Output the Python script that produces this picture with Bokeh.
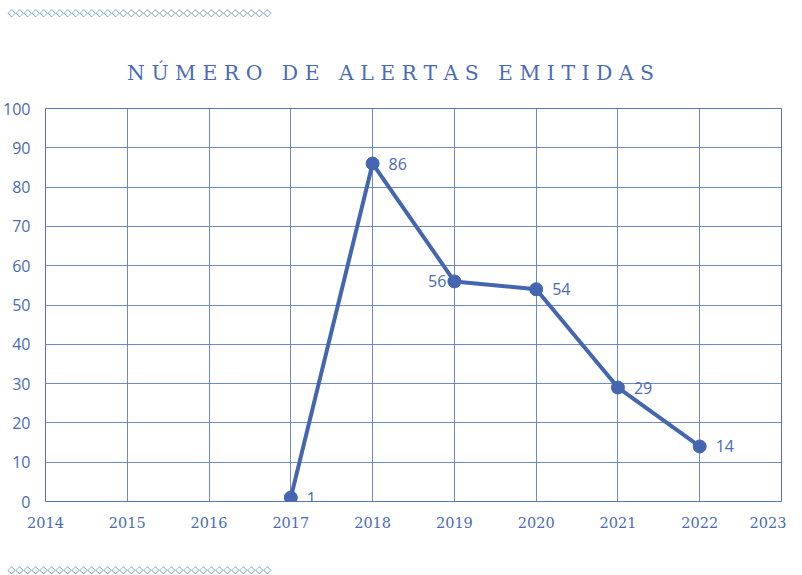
from bokeh.plotting import figure
from bokeh.layouts import column
from bokeh.models import ColumnDataSource, FixedTicker, Range1d, Title
from bokeh.core.properties import value
from bokeh.embed import file_html
from bokeh.resources import INLINE

years = [2017, 2018, 2019, 2020, 2021, 2022]
alerts = [1, 86, 56, 54, 29, 14]
label_side = ["right", "right", "left", "right", "right", "right"]
x_ticks = list(range(2014, 2024))
y_ticks = list(range(0, 101, 10))
title_text = "NÚMERO DE ALERTAS EMITIDAS"

BLUE = "#4466b0"
TXT = "#4a6ab8"
GRID = "#5575c2"
DIAM = "#5599b0"

W = 786
TOP_H, MAIN_H, BOT_H = 90, 451, 34
diam = "\u25c7" * 33


def diam_title(standoff):
    return Title(text=diam, align="left", offset=-38, standoff=standoff,
                 vertical_align="middle", text_font="DejaVu Sans",
                 text_font_size="10.4px", text_font_style="normal",
                 text_color=DIAM)


# top strip: decoration + title
top = figure(width=W, height=TOP_H, output_backend="svg",
             toolbar_location=None, x_range=Range1d(43, 781),
             y_range=Range1d(TOP_H, 24), x_axis_location=None,
             y_axis_location=None, min_border=0, min_border_left=0,
             min_border_right=0, min_border_top=0, min_border_bottom=0)
top.grid.visible = False
top.outline_line_color = None
top.title = diam_title(8)
spaced = " \u00a0 ".join(" ".join(w) for w in title_text.split(" "))
top.text(x=[389], y=[73], text=[spaced], text_font=value("DejaVu Serif"),
         text_font_size="20.4px", text_color=TXT, text_align="center",
         text_baseline="middle")

# main chart
p = figure(width=W, height=MAIN_H, output_backend="svg", toolbar_location=None,
           x_range=Range1d(2014, 2023), y_range=Range1d(0, 100),
           min_border_left=43, min_border_right=5, min_border_top=18,
           min_border_bottom=40)
p.outline_line_color = GRID
p.outline_line_width = 1
p.background_fill_color = "white"
p.border_fill_color = "white"

p.xaxis.ticker = FixedTicker(ticks=x_ticks)
p.yaxis.ticker = FixedTicker(ticks=y_ticks)
for ax in (p.xaxis, p.yaxis):
    ax.axis_line_color = None
    ax.major_tick_line_color = None
    ax.minor_tick_line_color = None
    ax.major_label_text_color = TXT
p.xaxis.major_label_text_font = "DejaVu Serif"
p.xaxis.major_label_text_font_size = "14.5px"
p.xaxis.major_label_standoff = 9
p.yaxis.major_label_text_font = "Open Sans"
p.yaxis.major_label_text_font_size = "16px"
p.yaxis.major_label_standoff = 9

p.xgrid.grid_line_color = GRID
p.ygrid.grid_line_color = GRID
p.xgrid.grid_line_alpha = 0.85
p.ygrid.grid_line_alpha = 0.85

src = ColumnDataSource(dict(x=years, y=alerts))
p.line("x", "y", source=src, line_color=BLUE, line_width=4)
p.scatter("x", "y", source=src, size=13, fill_color=BLUE, line_color=BLUE)

rx = [x for x, s in zip(years, label_side) if s == "right"]
ry = [y for y, s in zip(alerts, label_side) if s == "right"]
lx = [x for x, s in zip(years, label_side) if s == "left"]
ly = [y for y, s in zip(alerts, label_side) if s == "left"]
p.text(x=rx, y=ry, text=[str(v) for v in ry], x_offset=16,
       text_font=value("Open Sans"), text_font_size="16px",
       text_color=TXT, text_baseline="middle", text_align="left")
p.text(x=lx, y=ly, text=[str(v) for v in ly], x_offset=-8,
       text_font=value("Open Sans"), text_font_size="16px",
       text_color=TXT, text_baseline="middle", text_align="right")

# bottom strip: decoration
bot = figure(width=W, height=BOT_H, output_backend="svg",
             toolbar_location=None, x_range=Range1d(0, 1),
             y_range=Range1d(0, 1), x_axis_location=None,
             y_axis_location=None, title=None, min_border=0,
             min_border_left=0, min_border_right=0, min_border_top=0,
             min_border_bottom=0)
bot.grid.visible = False
bot.outline_line_color = None
bot.add_layout(diam_title(0), "below")

layout = column(top, p, bot, spacing=0)
open("out.html", "w").write(file_html(layout, INLINE))
